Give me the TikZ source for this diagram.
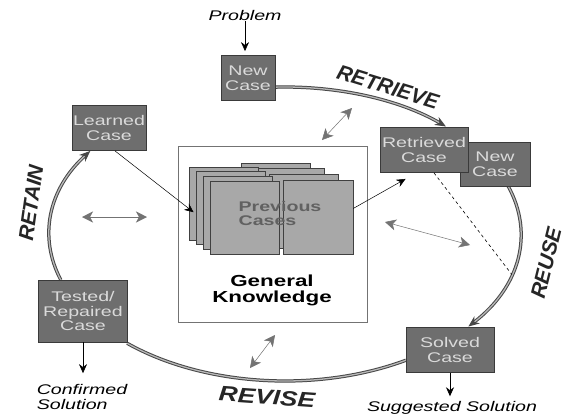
\documentclass[tikz,border=0pt]{standalone}
\usepackage{fontspec}
\setmainfont{Liberation Sans}
\newfontfamily\widesf[FakeStretch=1.4]{Liberation Sans}
\usetikzlibrary{arrows.meta,positioning,calc}

\definecolor{casegray}{HTML}{6E6E6E}
\definecolor{caseline}{HTML}{3A3A3A}
\definecolor{casetext}{HTML}{DADADA}
\definecolor{pagegray}{HTML}{A8A8A8}
\definecolor{linkgray}{HTML}{737373}

\begin{document}
\begin{tikzpicture}[
  x=1pt, y=-1pt,
  case/.style={draw=caseline, fill=casegray, text=casetext, line width=0.8pt,
    font=\widesf\fontsize{14}{14.5}\selectfont, align=center, inner sep=0pt},
  page/.style={draw=black!75, fill=pagegray, line width=0.6pt},
  loopline/.style={draw=black!72, double=black!28, double distance=1.3pt, line width=1pt},
  phase/.style={font=\bfseries\itshape\fontsize{21}{21}\selectfont, text=black!85, inner sep=0pt},
  outcome/.style={font=\widesf\itshape\fontsize{14}{15}\selectfont, inner sep=1pt, align=left},
  flow/.style={-{Stealth[length=9pt,width=8pt]}, line width=0.6pt},
  link/.style={{Stealth[length=11pt,width=11pt,inset=3pt]}-{Stealth[length=11pt,width=11pt,inset=3pt]},
    draw=linkgray, line width=0.5pt}
]
  \useasboundingbox (0,0) rectangle (574,416);
  \fill[white] (0,0) rectangle (574,416);

  % knowledge base in the middle
  \node[draw=black!55, fill=white, line width=0.6pt, minimum width=189pt,
    minimum height=176pt, inner sep=0pt] (knowledge) at (272.5,234) {};
  \foreach \i in {0,1,2}
    \draw[page] ({241+14*\i},{163+5.7*\i}) rectangle +(69,74);
  \foreach \i in {0,...,3}
    \draw[page] ({189+7*\i},{167+4.7*\i}) rectangle +(69,73);
  \draw[page] (283,180) rectangle +(70,74);
  \node[minimum width=164pt, minimum height=91pt, inner sep=0pt] (stack) at (271,208.5) {};
  \node[font=\widesf\bfseries\fontsize{14}{14}\selectfont, text=black!62, align=left]
    (prevcases) at (280,213) {Previous\\Cases};
  \node[font=\widesf\bfseries\fontsize{16}{16}\selectfont, align=center]
    (gktext) at (272,290) {General\\Knowledge};

  % the cycle
  \coordinate (hub) at (285,234);
  \coordinate (rt) at ($(hub)+(-92.4:236 and 147)$);
  \coordinate (ru) at ($(hub)+(-19:236 and 147)$);
  \coordinate (rv) at ($(hub)+(59.2:236 and 147)$);
  \coordinate (ra) at ($(hub)+(161.8:236 and 147)$);
  \coordinate (reusemid) at ($(hub)+(16:236 and 147)$);

  \draw[loopline, -{Stealth[length=11pt,width=9pt]}] (rt)
    arc[start angle=-92.4, end angle=-47, x radius=236, y radius=147];
  \draw[loopline, -{Stealth[length=11pt,width=9pt]}] (ru)
    arc[start angle=-19, end angle=39, x radius=236, y radius=147];
  \draw[loopline] (rv)
    arc[start angle=59.2, end angle=132, x radius=236, y radius=147];
  \draw[loopline, -{Stealth[length=11pt,width=9pt]}] (ra)
    arc[start angle=161.8, end angle=214.4, x radius=236, y radius=147];

  % cases
  \node[case, minimum width=54pt, minimum height=45pt] (newcase) at (248,78) {New\\Case};
  \node[case, minimum width=74pt, minimum height=45pt] (learned) at (109,128) {Learned\\Case};
  \node[case, minimum width=70pt, minimum height=44pt] (newcase2) at (495,164) {New\\Case};
  \node[case, minimum width=88pt, minimum height=45pt] (retrieved) at (424,150) {Retrieved\\Case};
  \node[case, minimum width=88pt, minimum height=45pt] (solved) at (450,350) {Solved\\Case};
  \node[case, minimum width=89pt, minimum height=62pt] (tested) at (83,311) {Tested/\\Repaired\\Case};

  % inputs and outputs
  \node[outcome] (problem) at (245,15) {Problem};
  \node[outcome] (suggested) at (452,408) {Suggested Solution};
  \node[outcome] (confirmed) at (82,397) {Confirmed\\Solution};
  \draw[flow, shorten >=4pt] (problem) -- (problem |- newcase.north);
  \draw[flow, shorten >=4pt] (solved.south) -- (solved.south |- suggested.north);
  \draw[flow, shorten >=10pt] (tested.south) -- (tested.south |- confirmed.north);

  \draw[flow, line width=0.5pt, shorten >=-6pt] ([xshift=6pt]learned.south) -- (stack.west);
  \draw[flow, line width=0.5pt] (stack.east) -- ($(retrieved.south west)+(26,6)$);
  \draw[dashed, line width=0.6pt] ($(retrieved.south)+(10,0)$) -- (reusemid);

  % links to the knowledge
  \draw[link] (322,140) -- (352,108);
  \draw[link] (82,217) -- (147,217);
  \draw[link] (385,222) -- (470,245);
  \draw[link] (250,368) -- (275,335);

  % phase labels
  \node[phase, rotate=-17] (retrievelbl) at (388,87) {RETRIEVE};
  \node[phase, rotate=76] (reuselbl) at (546,263) {REUSE};
  \node[phase, rotate=-4] (reviselbl) at (267,397) {\scalebox{1.25}[1]{REVISE}};
  \node[phase, rotate=82] (retainlbl) at (31,203) {RETAIN};
\end{tikzpicture}
\end{document}
